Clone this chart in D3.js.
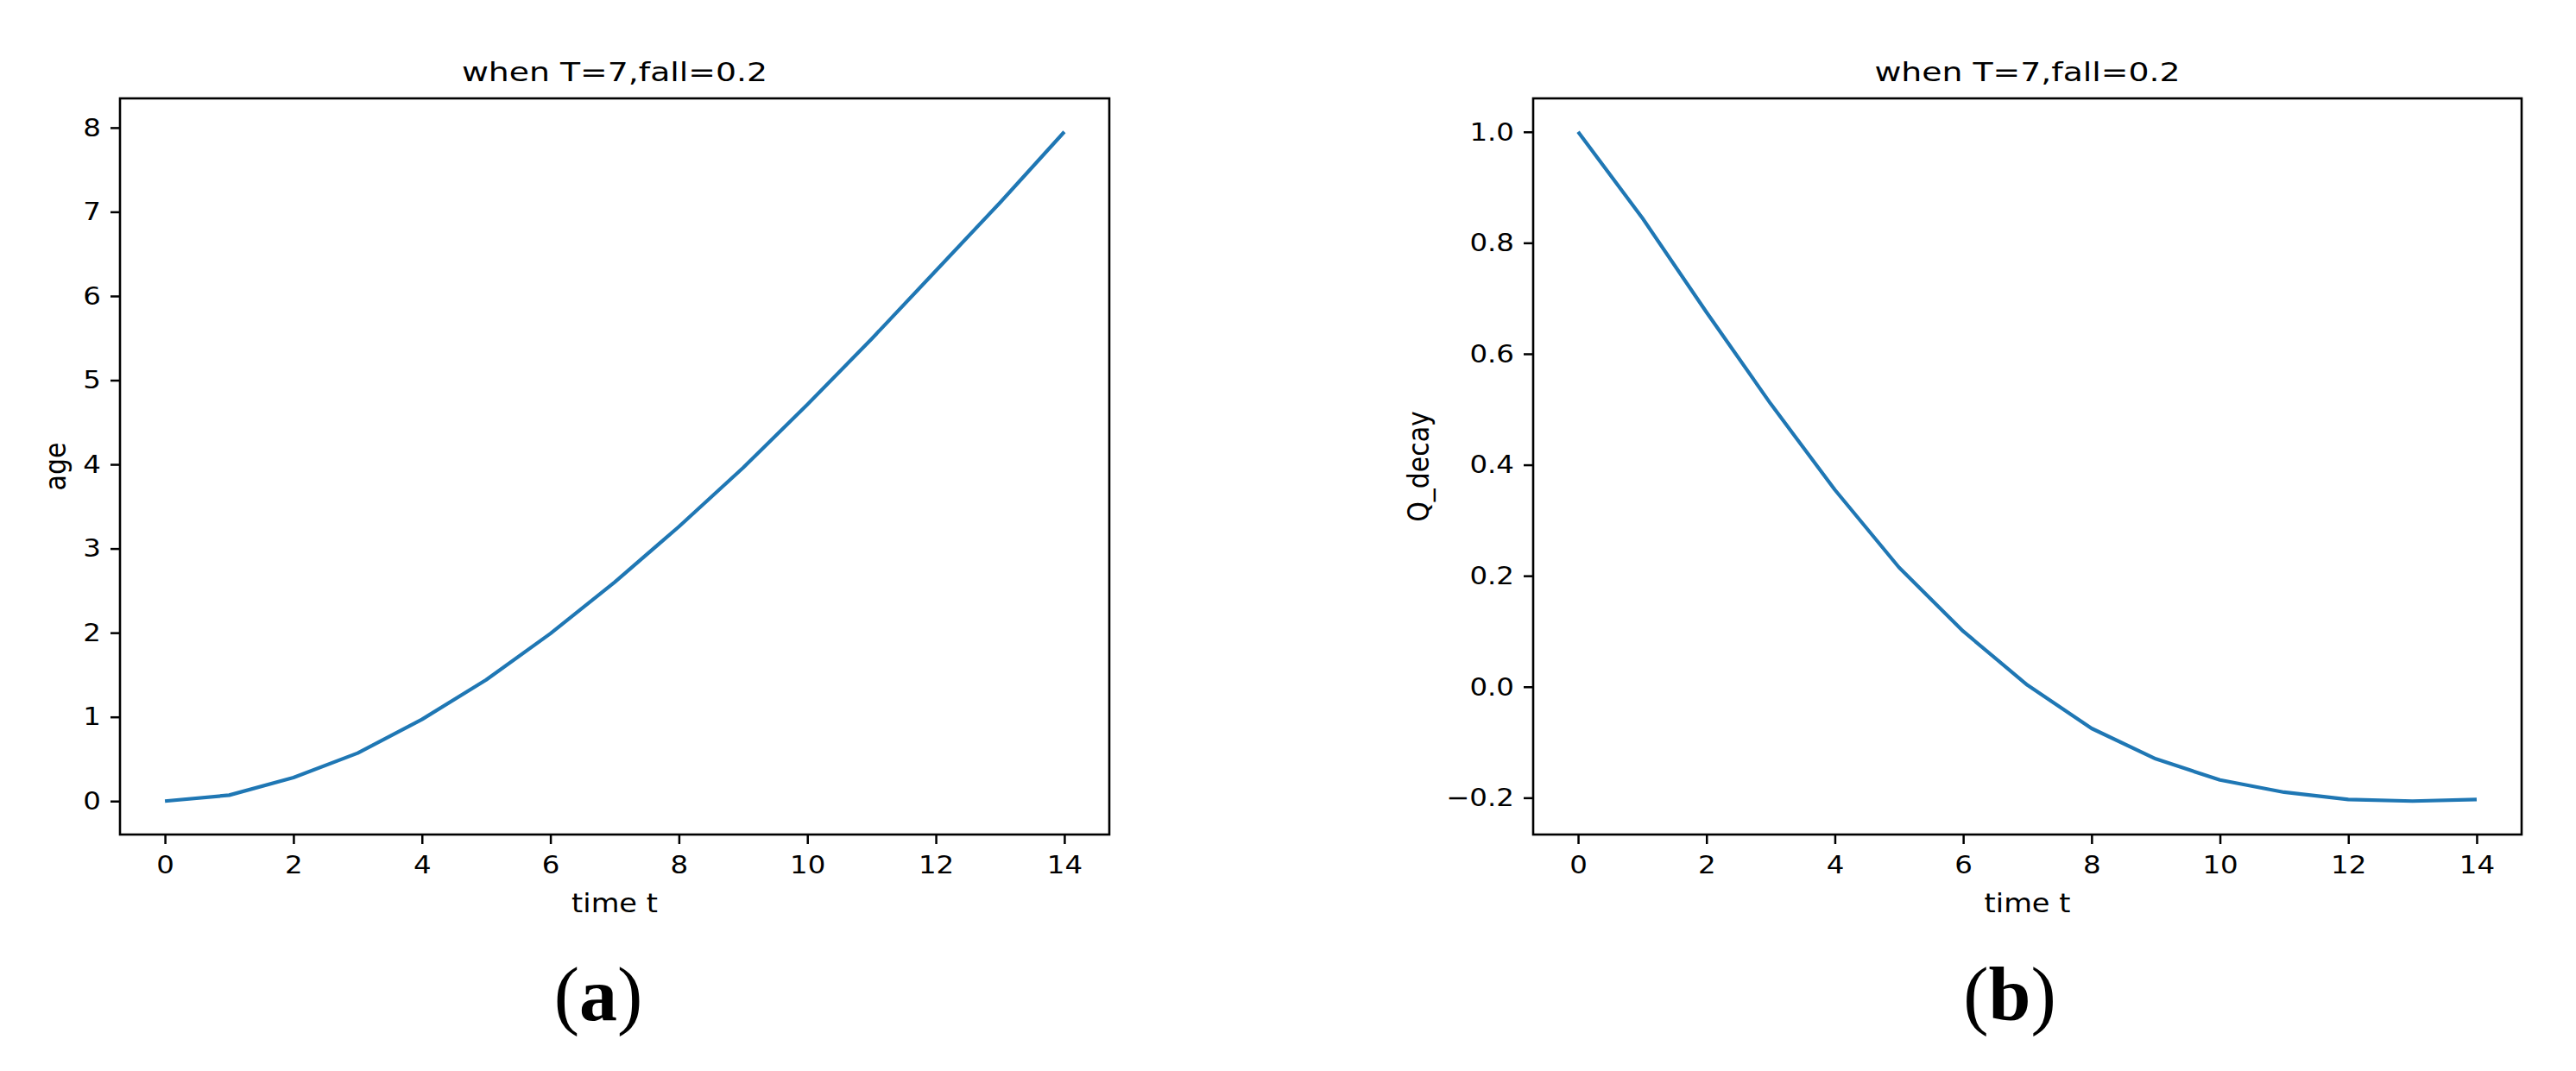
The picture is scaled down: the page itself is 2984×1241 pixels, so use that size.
<!DOCTYPE html>
<html>
<head>
<meta charset="utf-8">
<script src="https://cdn.jsdelivr.net/npm/d3@7"></script>
<style>
html,body{margin:0;padding:0;background:#fff;}
svg{display:block;}
</style>
</head>
<body>
<svg id="chart" width="2984" height="1241"></svg>
<script>
// ---- data ----
const timeT = [0,1,2,3,4,5,6,7,8,9,10,11,12,13,14];
const ageValues = [0, 0.07, 0.28, 0.57, 0.97, 1.44, 1.99, 2.60, 3.26, 3.96, 4.71, 5.49, 6.30, 7.11, 7.95];
const qDecayValues = [1.0, 0.845, 0.675, 0.51, 0.355, 0.215, 0.10, 0.003, -0.075, -0.13, -0.168, -0.19, -0.203, -0.206, -0.203];
const xTicks = [0,2,4,6,8,10,12,14];
const ageTicks = [0,1,2,3,4,5,6,7,8];
const qTicks = [-0.2,0.0,0.2,0.4,0.6,0.8,1.0];
const titles = ["when T=7,fall=0.2","when T=7,fall=0.2"];
const xLabels = ["time t","time t"];
const yLabels = ["age","Q_decay"];
const panelTags = ["a","b"];

const svg = d3.select("#chart");
const FONT = "DejaVu Sans";
const lineColor = "#1f77b4";

const panels = [
  {x0:139, x1:1285, y0:114, y1:967, values:ageValues, yTicks:ageTicks, fmt:d3.format("d"), ylabX:76, tag:panelTags[0], tagX:693},
  {x0:1776, x1:2921, y0:114, y1:967, values:qDecayValues, yTicks:qTicks, fmt:d3.format(".1f"), ylabX:1655, tag:panelTags[1], tagX:2328}
];

function padded(ext){const r=ext[1]-ext[0];return [ext[0]-0.05*r, ext[1]+0.05*r];}

panels.forEach((p,i)=>{
  const x = d3.scaleLinear().domain(padded(d3.extent(timeT))).range([p.x0,p.x1]);
  const y = d3.scaleLinear().domain(padded(d3.extent(p.values))).range([p.y1,p.y0]);
  const g = svg.append("g");

  const TS = 1.12; // horizontal text stretch
  // axes
  const xa = g.append("g").attr("transform",`translate(0,${p.y1})`)
    .call(d3.axisBottom(x).tickValues(xTicks).tickSize(11).tickPadding(12).tickFormat(d3.format("d")));
  const ya = g.append("g").attr("transform",`translate(${p.x0},0)`)
    .call(d3.axisLeft(y).tickValues(p.yTicks).tickSize(11).tickPadding(11).tickFormat(d=>p.fmt(d).replace("-","\u2212")));
  [xa,ya].forEach(a=>{
    a.select(".domain").remove();
    a.selectAll(".tick line").attr("stroke","#000").attr("stroke-width",2.5);
    a.selectAll(".tick text").attr("font-family",FONT).attr("font-size",29).attr("fill","#000");
  });
  xa.selectAll(".tick text").each(function(){
    const t=d3.select(this); const yy=+t.attr("y");
    t.attr("y",0).attr("dy","0.76em").attr("transform",`translate(0,${yy}) scale(${TS},1)`);
  });
  ya.selectAll(".tick text").each(function(){
    const t=d3.select(this); const xx=+t.attr("x");
    t.attr("x",0).attr("transform",`translate(${xx},0) scale(${TS},1)`);
  });

  // line
  const line = d3.line().x((d,k)=>x(timeT[k])).y(d=>y(d));
  g.append("path").datum(p.values).attr("d",line)
    .attr("fill","none").attr("stroke",lineColor).attr("stroke-width",4.2)
    .attr("stroke-linejoin","round").attr("stroke-linecap","butt");

  // frame
  g.append("rect").attr("x",p.x0).attr("y",p.y0).attr("width",p.x1-p.x0).attr("height",p.y1-p.y0)
    .attr("fill","none").attr("stroke","#000").attr("stroke-width",2.6);

  // title
  g.append("text").attr("transform",`translate(${(p.x0+p.x1)/2},94) scale(1.22,1)`)
    .attr("text-anchor","middle").attr("font-family",FONT).attr("font-size",31).attr("fill","#000")
    .text(titles[i]);
  // x label
  g.append("text").attr("transform",`translate(${(p.x0+p.x1)/2},1057) scale(${TS},1)`)
    .attr("text-anchor","middle").attr("font-family",FONT).attr("font-size",30).attr("fill","#000")
    .text(xLabels[i]);
  // y label
  g.append("text").attr("transform",`translate(${p.ylabX},${(p.y0+p.y1)/2}) scale(${TS},1) rotate(-90)`)
    .attr("text-anchor","middle").attr("font-family",FONT).attr("font-size",30).attr("fill","#000")
    .text(yLabels[i]);

  // panel tag (a)/(b)
  const tg = svg.append("text").attr("x",p.tagX).attr("y",1182).attr("text-anchor","middle")
    .attr("font-family","Liberation Serif").attr("font-size",88).attr("fill","#000");
  tg.append("tspan").text("(");
  tg.append("tspan").attr("font-weight","bold").text(p.tag);
  tg.append("tspan").text(")");
});
</script>
</body>
</html>
